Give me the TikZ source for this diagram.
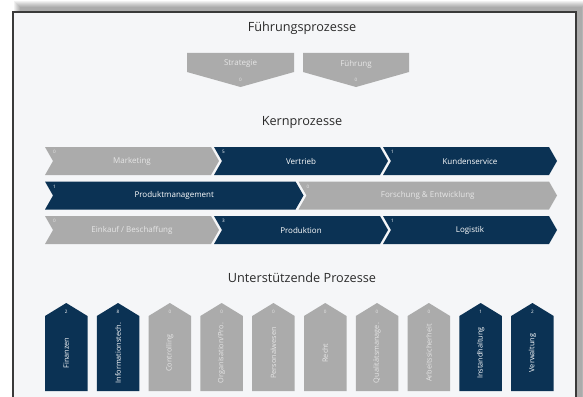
\documentclass[tikz,border=0pt]{standalone}
\usepackage{fontspec}
\setmainfont{Open Sans}
\definecolor{navy}{HTML}{0B3254}
\definecolor{pgray}{HTML}{ABABAB}
\definecolor{panel}{HTML}{F5F6F8}
\definecolor{framec}{HTML}{3A3A3A}
\definecolor{ltxt}{HTML}{E6E6E6}
\definecolor{titlec}{HTML}{2B2B2B}
% chevron: #1 name, #2 xL, #3 W, #4 ytop, #5 fill, #6 label, #7 number, #8 text colour
\newcommand\mychev[8]{%
  \fill[#5] (#2,#4) -- ++(#3,0) -- ++(8,14) -- ++(-8,14) -- ++(-#3,0) -- ++(8,-14) -- cycle;
  \node[lbl,text=#8] (#1) at ({#2+#3/2+4},{#4+14}) {#6};
  \node[num,text=#8,anchor=west] (#1n) at ({#2+8},{#4+5}) {#7};
}
% support: #1 name, #2 x, #3 fill, #4 label, #5 number, #6 text colour
\newcommand\mysup[6]{%
  \fill[#3] (#2,316) -- ({#2+21.25},303) -- ({#2+42.5},316) -- ({#2+42.5},391) -- (#2,391) -- cycle;
  \node[slbl,text=#6,rotate=90] (#1) at ({#2+21.25},353) {#4};
  \node[num,text=#6] (#1n) at ({#2+21.25},312) {#5};
}
\begin{document}
\begin{tikzpicture}[x=1pt,y=-1pt,
  lbl/.style={font=\fontsize{8}{9}\selectfont, inner sep=0},
  slbl/.style={font=\fontsize{7.3}{8}\selectfont, inner sep=0},
  num/.style={font=\fontsize{4.6}{5}\selectfont, inner sep=0},
  ttl/.style={font=\fontsize{12.7}{15}\selectfont, text=titlec, inner sep=0}]
\useasboundingbox (0,0) rectangle (583,396);
\clip (0,0) rectangle (583,396);
% drop shadow
\foreach \i in {0,...,6}{
  \fill[black,opacity=0.055] ({14+\i},{1+\i}) rectangle ({588-\i},430);
}
% panel
\fill[panel] (13,12) rectangle (576,430);
\draw[framec,line width=1.3] (13,12) rectangle (576,430);
% titles
\node[ttl] (t1) at (302,28) {Führungsprozesse};
\node[ttl] (t2) at (302,122) {Kernprozesse};
\node[ttl] (t3) at (302,278) {Unterstützende Prozesse};
% Führungsprozesse
\fill[pgray] (187,53) -- (294,53) -- (294,72) -- (240.5,87) -- (187,72) -- cycle;
\node[lbl,text=ltxt] (strat) at (240.5,64) {Strategie};
\node[num,text=ltxt] (stratn) at (240.5,80) {0};
\fill[pgray] (303,53) -- (409,53) -- (409,72) -- (356,87) -- (303,72) -- cycle;
\node[lbl,text=ltxt] (fuehr) at (356,64) {Führung};
\node[num,text=ltxt] (fuehrn) at (356,80) {0};
% Kernprozesse
\mychev{mark}{45}{166}{147}{pgray}{Marketing}{0}{ltxt}
\mychev{vert}{214}{166}{147}{navy}{Vertrieb}{5}{white}
\mychev{kund}{383}{166}{147}{navy}{Kundenservice}{1}{white}
\mychev{prod}{45}{250.5}{181.5}{navy}{Produktmanagement}{1}{white}
\mychev{fue}{298.5}{250.5}{181.5}{pgray}{Forschung \& Entwicklung}{0}{ltxt}
\mychev{eink}{45}{166}{216}{pgray}{Einkauf / Beschaffung}{0}{ltxt}
\mychev{prdk}{214}{166}{216}{navy}{Produktion}{3}{white}
\mychev{logi}{383}{166}{216}{navy}{Logistik}{1}{white}
% Unterstützende Prozesse
\mysup{fin}{45}{navy}{Finanzen}{2}{white}
\mysup{inf}{96.8}{navy}{Informationstech.}{8}{white}
\mysup{con}{148.6}{pgray}{Controlling}{0}{ltxt}
\mysup{org}{200.4}{pgray}{Organisation/Pro.}{0}{ltxt}
\mysup{per}{252.2}{pgray}{Personalwesen}{0}{ltxt}
\mysup{rec}{304}{pgray}{Recht}{0}{ltxt}
\mysup{qua}{355.8}{pgray}{Qualitätsmanage.}{0}{ltxt}
\mysup{arb}{407.6}{pgray}{Arbeitssicherheit}{0}{ltxt}
\mysup{ins}{459.4}{navy}{Instandhaltung}{1}{white}
\mysup{ver}{511.2}{navy}{Verwaltung}{2}{white}
\end{tikzpicture}
\end{document}
